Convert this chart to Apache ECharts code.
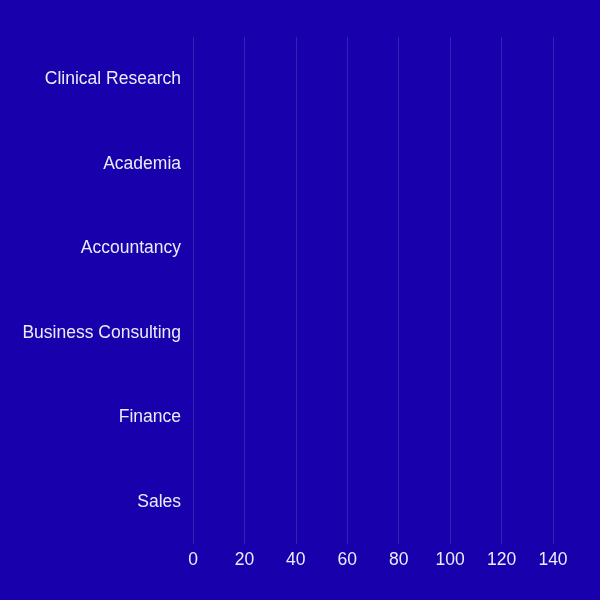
<!DOCTYPE html>
<html>
<head>
<meta charset="utf-8">
<script src="https://cdn.jsdelivr.net/npm/echarts@6/dist/echarts.min.js"></script>
<style>
html,body{margin:0;padding:0;background:#1800ac;}
#c{width:600px;height:600px;}
</style>
</head>
<body>
<div id="c"></div>
<script>
const categories = ["Clinical Research", "Academia", "Accountancy", "Business Consulting", "Finance", "Sales"];
const values = [0, 0, 0, 0, 0, 0];
const xTicks = [0, 20, 40, 60, 80, 100, 120, 140];

const chart = echarts.init(document.getElementById('c'));
chart.setOption({
  backgroundColor: '#1800ac',
  animation: false,
  grid: { left: 193, right: 47, top: 37, bottom: 56, containLabel: false },
  xAxis: {
    type: 'value',
    min: xTicks[0],
    max: xTicks[xTicks.length - 1],
    interval: 20,
    axisLine: { show: false },
    axisTick: { show: false },
    axisLabel: { color: '#ececf8', fontSize: 17.5, fontFamily: 'Liberation Sans, Arial, sans-serif', margin: 7 },
    splitLine: { show: true, lineStyle: { color: 'rgba(255,255,255,0.13)', width: 1 } }
  },
  yAxis: {
    type: 'category',
    data: categories,
    inverse: true,
    axisLine: { show: false },
    axisTick: { show: false },
    splitLine: { show: false },
    axisLabel: { color: '#ececf8', fontSize: 17.5, fontFamily: 'Liberation Sans, Arial, sans-serif', margin: 12 }
  },
  series: [{
    type: 'bar',
    data: values,
    itemStyle: { color: '#ffffff' }
  }]
});
</script>
</body>
</html>
